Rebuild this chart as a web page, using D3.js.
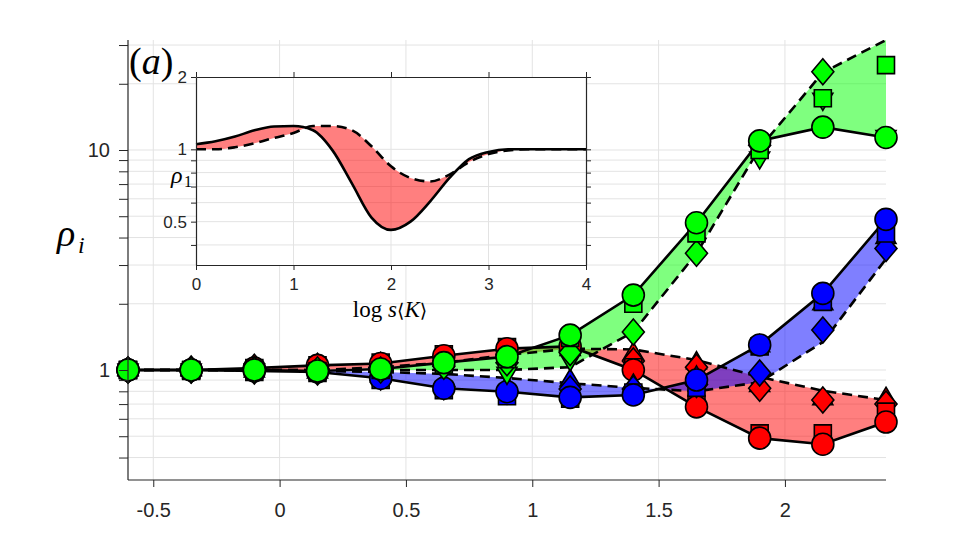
<!DOCTYPE html>
<html>
<head>
<meta charset="utf-8">
<script src="https://cdn.jsdelivr.net/npm/d3@7"></script>
<style>
  body { margin: 0; background: #fff; }
  svg { display: block; }
</style>
</head>
<body>
<div id="chart"></div>
<script>
// x positions (log s<K>) shared by all series of the main panel
const xs = [-0.6, -0.35, -0.1, 0.15, 0.4, 0.65, 0.9, 1.15, 1.4, 1.65, 1.9, 2.15, 2.4];

// rho_1 (red)
const redCircle   = [1.0, 1.0, 1.02, 1.05, 1.07, 1.16, 1.25, 1.28, 1.0, 0.68, 0.49, 0.46, 0.58];
const redDash     = [1.0, 1.0, 1.0, 1.0, 1.03, 1.08, 1.17, 1.25, 1.24, 1.11, 0.93, 0.805, 0.73];
const redSquare   = [1.0, 1.0, 1.02, 1.05, 1.08, 1.18, 1.27, 1.29, 1.03, 0.70, 0.515, 0.515, 0.647];
const redDiamond  = [1.0, 1.01, 1.03, 1.04, 1.05, 1.1, 1.18, 1.22, 1.1, 1.03, 0.826, 0.73, 0.70];
const redTriangle = [1.01, 1.01, 1.04, 1.04, 1.06, 1.12, 1.2, 1.24, 1.19, 1.08, 0.85, 0.74, 0.744];

// rho_2 (blue)
const blueCircle   = [1.0, 1.0, 0.99, 0.98, 0.917, 0.826, 0.797, 0.751, 0.77, 0.90, 1.30, 2.23, 4.84];
const blueDash     = [1.0, 1.0, 1.0, 0.99, 0.98, 0.96, 0.92, 0.87, 0.83, 0.80, 0.88, 1.34, 3.2];
const blueSquare   = [1.0, 0.99, 0.98, 0.97, 0.9, 0.81, 0.76, 0.74, 0.79, 0.83, 1.28, 2.04, 4.17];
const blueDiamond  = [1.0, 1.0, 0.99, 0.98, 0.93, 0.84, 0.8, 0.82, 0.82, 0.86, 0.97, 1.52, 3.57];
const blueTriangle = [1.0, 1.0, 0.99, 0.98, 0.94, 0.86, 0.84, 0.90, 0.855, 0.93, 1.29, 2.0, 4.0];

// rho_3 (green)
const greenCircle   = [1.0, 1.0, 1.0, 0.99, 1.01, 1.08, 1.15, 1.44, 2.19, 4.67, 11.0, 12.7, 11.4];
const greenDash     = [1.0, 1.0, 1.0, 1.0, 1.0, 1.0, 1.0, 1.03, 1.49, 3.39, 10.2, 22.5, 31.6];
const greenSquare   = [1.0, 1.0, 1.0, 0.99, 1.0, 1.06, 1.12, 1.40, 2.0, 4.18, 10.0, 17.2, 24.3];
const greenDiamond  = [1.0, 1.0, 1.0, 1.0, 1.0, 1.04, 1.08, 1.2, 1.49, 3.39, 10.5, 22.7, 33];
const greenTriangle = [1.0, 1.0, 1.0, 0.99, 1.0, 1.05, 0.966, 1.11, 2.1, 4.3, 9.2, 17, 11.5];

// inset: rho_1 against log s<K>
const insetX     = [0, 0.2, 0.4, 0.6, 0.8, 1.0, 1.2, 1.4, 1.6, 1.8, 2.0, 2.2, 2.4, 2.6, 2.8, 3.0, 3.2, 3.4, 3.6, 3.8, 4.0];
const insetSolid = [1.05, 1.08, 1.13, 1.2, 1.245, 1.25, 1.2, 0.99, 0.72, 0.52, 0.462, 0.50, 0.606, 0.76, 0.91, 0.975, 1.0, 1.0, 1.0, 1.0, 1.0];
const insetDash  = [1.0, 1.0, 1.02, 1.06, 1.115, 1.17, 1.25, 1.25, 1.2, 1.03, 0.85, 0.76, 0.735, 0.785, 0.885, 0.955, 0.99, 1.0, 1.0, 1.0, 1.0];

const xTicks = [-0.5, 0, 0.5, 1, 1.5, 2];
const yTicks = [0.4, 0.5, 0.6, 0.7, 0.8, 0.9, 1, 2, 3, 4, 5, 6, 7, 8, 9, 10, 20, 30];
const insetXTicks = [0, 1, 2, 3, 4];
const insetYTicks = [0.4, 0.5, 0.6, 0.7, 0.8, 0.9, 1, 2];

const W = 980, H = 540;
const AX = '#262626';
const GRID = '#e3e3e3';

const svg = d3.select('#chart').append('svg')
  .attr('width', W)
  .attr('height', H);

const x = d3.scaleLinear().domain([-0.6, 2.4]).range([128, 886]);
const y = d3.scaleLog().domain([Math.pow(10, -0.5), Math.pow(10, 1.5)]).range([480, 40]);

// grid
const grid = svg.append('g');
grid.selectAll('line.v').data(xTicks).enter().append('line')
  .attr('x1', d => x(d)).attr('x2', d => x(d))
  .attr('y1', 40).attr('y2', 480)
  .attr('stroke', GRID).attr('stroke-width', 1);
grid.selectAll('line.h').data(yTicks).enter().append('line')
  .attr('x1', 128).attr('x2', 886)
  .attr('y1', d => y(d)).attr('y2', d => y(d))
  .attr('stroke', GRID).attr('stroke-width', 1);

svg.append('clipPath').attr('id', 'clipMain')
  .append('rect').attr('x', 128).attr('y', 40).attr('width', 758).attr('height', 440);

const series = [
  { color: '#ff0000', line: redCircle, dash: redDash, sq: redSquare, di: redDiamond, tri: redTriangle, down: false },
  { color: '#0000ff', line: blueCircle, dash: blueDash, sq: blueSquare, di: blueDiamond, tri: blueTriangle, down: false },
  { color: '#00ff00', line: greenCircle, dash: greenDash, sq: greenSquare, di: greenDiamond, tri: greenTriangle, down: true },
];

const plot = svg.append('g').attr('clip-path', 'url(#clipMain)');

const area = d3.area()
  .x((d, i) => x(xs[i]))
  .y0(d => y(d[0]))
  .y1(d => y(d[1]));

series.forEach(s => {
  plot.append('path')
    .datum(s.line.map((v, i) => [s.dash[i], v]))
    .attr('d', area)
    .attr('fill', s.color)
    .attr('fill-opacity', 0.5)
    .attr('stroke', 'none');
});

const line = d3.line()
  .x((d, i) => x(xs[i]))
  .y(d => y(d));

series.forEach(s => {
  plot.append('path').datum(s.dash).attr('d', line)
    .attr('fill', 'none').attr('stroke', '#000').attr('stroke-width', 2.6)
    .attr('stroke-dasharray', '10,6');
  plot.append('path').datum(s.line).attr('d', line)
    .attr('fill', 'none').attr('stroke', '#000').attr('stroke-width', 2.6);
});

const shapes = {
  circle: () => d3.symbol(d3.symbolCircle, Math.PI * 11 * 11)(),
  square: () => 'M-8.5,-8.5h17v17h-17Z',
  diamond: () => 'M0,-13L11,0L0,13L-11,0Z',
  up: () => 'M0,-11L10,6L-10,6Z',
  down: () => 'M0,11L10,-6L-10,-6Z',
};

const [yLo, yHi] = y.domain();
const marks = svg.append('g');
series.forEach(s => {
  const layers = [
    [s.tri, s.down ? 'down' : 'up'],
    [s.di, 'diamond'],
    [s.sq, 'square'],
    [s.line, 'circle'],
  ];
  layers.forEach(([vals, kind]) => {
    marks.append('g').selectAll('path')
      .data(xs.map((xv, i) => ({ x: xv, v: vals[i] })).filter(d => d.v >= yLo && d.v <= yHi))
      .enter().append('path')
      .attr('transform', d => `translate(${x(d.x)},${y(d.v)})`)
      .attr('d', shapes[kind]())
      .attr('fill', s.color)
      .attr('stroke', '#000')
      .attr('stroke-width', 1.6);
  });
});

// axes
const yAxis = d3.axisLeft(y)
  .tickValues(yTicks)
  .tickSize(9)
  .tickSizeOuter(0)
  .tickPadding(9)
  .tickFormat(d => (d === 1 || d === 10) ? String(d) : '');
const gy = svg.append('g').attr('transform', 'translate(128,0)').call(yAxis);

const xAxis = d3.axisBottom(x)
  .tickValues(xTicks)
  .tickSize(7)
  .tickSizeOuter(0)
  .tickPadding(16)
  .tickFormat(d => String(d));
const gx = svg.append('g').attr('transform', 'translate(0,480)').call(xAxis);

[gx, gy].forEach(g => {
  g.select('.domain').attr('stroke', AX).attr('stroke-width', 1.2);
  g.selectAll('.tick line').attr('stroke', AX).attr('stroke-width', 1);
  g.selectAll('.tick text').attr('fill', AX)
    .attr('font-family', 'Arial, "Liberation Sans", sans-serif')
    .attr('font-size', 20);
});
gy.select('.domain').attr('d', 'M0,40V480');
gx.select('.domain').attr('d', 'M128,0H886');

// y label
svg.append('text').attr('x', 57).attr('y', 246)
  .attr('font-family', '"Liberation Serif", serif').attr('font-style', 'italic')
  .attr('font-size', 38).attr('fill', '#000').text('ρ');
svg.append('text').attr('x', 78).attr('y', 253)
  .attr('font-family', '"Liberation Serif", serif').attr('font-style', 'italic')
  .attr('font-size', 24).attr('fill', '#000').text('i');

// ---------- inset ----------
const ix = d3.scaleLinear().domain([0, 4]).range([196, 586]);
const iy = d3.scaleLog().domain([0.33, 2]).range([265, 77]);

const inset = svg.append('g');
inset.append('rect').attr('x', 196).attr('y', 77).attr('width', 390).attr('height', 188)
  .attr('fill', '#fff');
inset.selectAll('line.iv').data([1, 2, 3]).enter().append('line')
  .attr('x1', d => ix(d)).attr('x2', d => ix(d))
  .attr('y1', 77).attr('y2', 265)
  .attr('stroke', GRID).attr('stroke-width', 1);
inset.selectAll('line.ih').data(insetYTicks.slice(0, -1)).enter().append('line')
  .attr('x1', 196).attr('x2', 586)
  .attr('y1', d => iy(d)).attr('y2', d => iy(d))
  .attr('stroke', GRID).attr('stroke-width', 1);

const iarea = d3.area()
  .curve(d3.curveMonotoneX)
  .x((d, i) => ix(insetX[i]))
  .y0(d => iy(d[0]))
  .y1(d => iy(d[1]));
inset.append('path')
  .datum(insetSolid.map((v, i) => [insetDash[i], v]))
  .attr('d', iarea)
  .attr('fill', '#ff0000').attr('fill-opacity', 0.5);

const iline = d3.line()
  .curve(d3.curveMonotoneX)
  .x((d, i) => ix(insetX[i]))
  .y(d => iy(d));
inset.append('path').datum(insetDash).attr('d', iline)
  .attr('fill', 'none').attr('stroke', '#000').attr('stroke-width', 2.6)
  .attr('stroke-dasharray', '10,6');
inset.append('path').datum(insetSolid).attr('d', iline)
  .attr('fill', 'none').attr('stroke', '#000').attr('stroke-width', 2.6);

// inset axes, ticks outward on all four sides
const ifmt = d => (d === 0.5 || d === 1 || d === 2) ? String(d) : '';
const giL = inset.append('g').attr('transform', 'translate(196,0)')
  .call(d3.axisLeft(iy).tickValues(insetYTicks).tickSize(5).tickSizeOuter(0).tickPadding(4).tickFormat(ifmt));
const giR = inset.append('g').attr('transform', 'translate(586,0)')
  .call(d3.axisRight(iy).tickValues(insetYTicks).tickSize(5).tickSizeOuter(0).tickFormat(''));
const giB = inset.append('g').attr('transform', 'translate(0,265)')
  .call(d3.axisBottom(ix).tickValues(insetXTicks).tickSize(5).tickSizeOuter(0).tickPadding(8).tickFormat(d => String(d)));
const giT = inset.append('g').attr('transform', 'translate(0,77)')
  .call(d3.axisTop(ix).tickValues(insetXTicks).tickSize(5).tickSizeOuter(0).tickFormat(''));
[giL, giR, giB, giT].forEach(g => {
  g.select('.domain').attr('stroke', AX).attr('stroke-width', 1.2);
  g.selectAll('.tick line').attr('stroke', AX).attr('stroke-width', 1);
  g.selectAll('.tick text').attr('fill', AX)
    .attr('font-family', 'Arial, "Liberation Sans", sans-serif')
    .attr('font-size', 17);
});

inset.append('text').attr('x', 171).attr('y', 183)
  .attr('font-family', '"Liberation Serif", serif').attr('font-style', 'italic')
  .attr('font-size', 24).attr('fill', '#000').text('ρ');
inset.append('text').attr('x', 184).attr('y', 187)
  .attr('font-family', '"Liberation Serif", serif')
  .attr('font-size', 16).attr('fill', '#000').text('1');

const xl = inset.append('text').attr('x', 390).attr('y', 317)
  .attr('text-anchor', 'middle')
  .attr('font-family', '"Liberation Serif", serif')
  .attr('font-size', 23).attr('fill', '#000');
xl.append('tspan').text('log ');
xl.append('tspan').attr('font-style', 'italic').text('s');
xl.append('tspan').attr('font-family', '"DejaVu Sans", sans-serif').attr('font-size', 19).text('⟨');
xl.append('tspan').attr('font-style', 'italic').text('K');
xl.append('tspan').attr('font-family', '"DejaVu Sans", sans-serif').attr('font-size', 19).text('⟩');

// panel label
const pl = svg.append('text').attr('x', 129).attr('y', 74)
  .attr('font-family', '"Liberation Serif", serif')
  .attr('font-size', 38).attr('fill', '#000');
pl.append('tspan').text('(');
pl.append('tspan').attr('font-style', 'italic').text('a');
pl.append('tspan').text(')');
</script>
</body>
</html>
